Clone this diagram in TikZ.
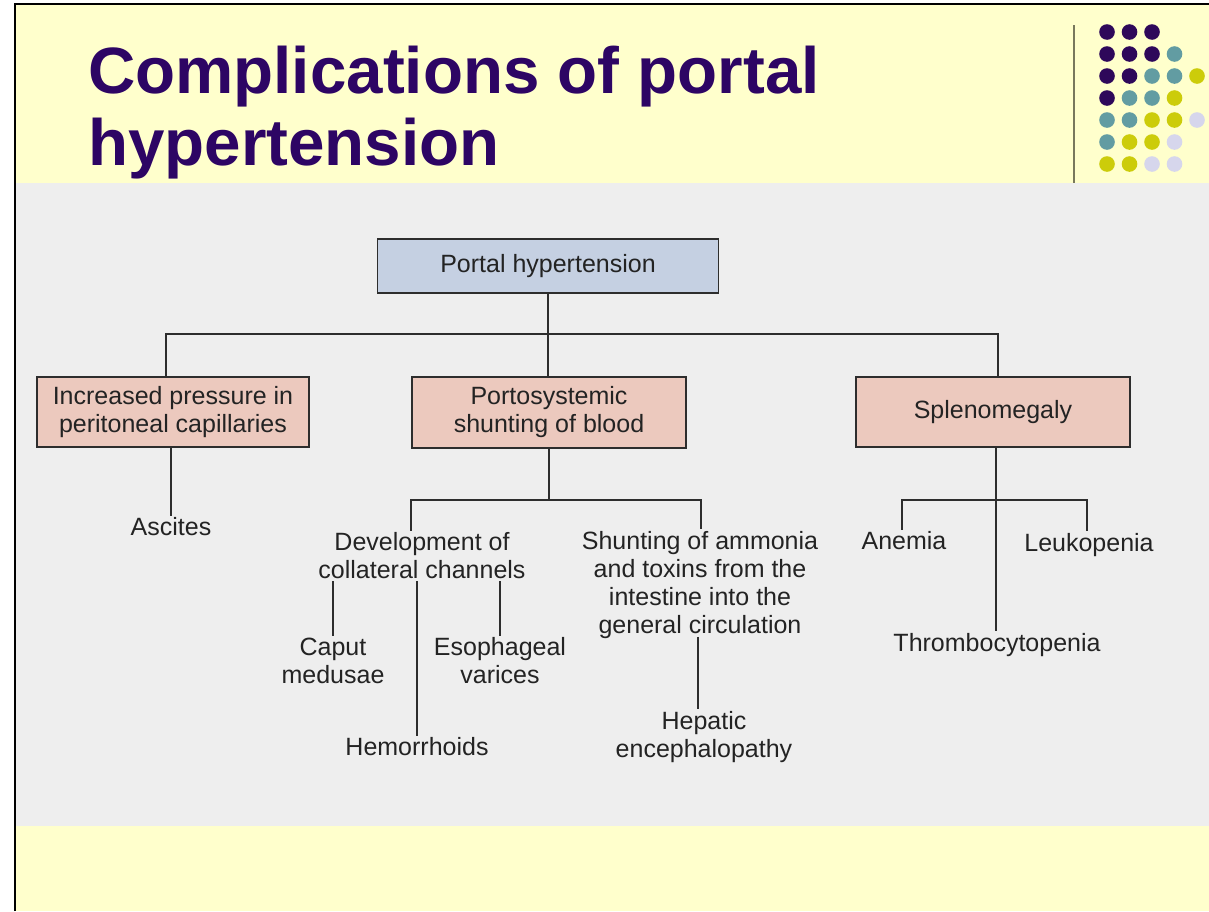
\documentclass[tikz,border=0pt]{standalone}
\usepackage{fontspec}
\setmainfont{Liberation Sans}
\definecolor{bgyellow}{RGB}{255,255,204}
\definecolor{bggray}{RGB}{238,238,238}
\definecolor{titlec}{RGB}{45,5,100}
\definecolor{dotP}{RGB}{46,8,90}
\definecolor{dotT}{RGB}{98,156,162}
\definecolor{dotY}{RGB}{204,204,10}
\definecolor{dotL}{RGB}{214,214,236}
\definecolor{sepline}{RGB}{120,120,92}
\definecolor{boxblue}{RGB}{197,208,226}
\definecolor{boxpink}{RGB}{236,201,190}
\definecolor{lin}{RGB}{45,45,45}
\definecolor{txt}{RGB}{35,35,35}
\begin{document}
\begin{tikzpicture}[x=1pt,y=-1pt,
  box/.style={draw=lin, line width=1.8pt, inner sep=0pt, align=center, text=txt,
    font=\fontsize{25}{28}\selectfont},
  lbl/.style={align=center, inner sep=2pt, text=txt, font=\fontsize{25}{28}\selectfont},
  conn/.style={draw=lin, line width=1.8pt},
  dot/.style={fill=#1}]
\useasboundingbox (0,0) rectangle (1209,911);
% backgrounds
\fill[white] (0,0) rectangle (1209,911);
\fill[bgyellow] (15,4) rectangle (1209,911);
\fill[bggray] (16,183) rectangle (1209,826);
\draw[black, line width=2pt] (15,911) -- (15,4) -- (1209,4);
% separator line
\draw[sepline, line width=2.5pt] (1074,25) -- (1074,183);
% dots
\foreach \c [count=\i] in {P,P,P}{\fill[dot\c] (1084.5+22.5*\i,32) circle[radius=7.8pt];}
\foreach \c [count=\i] in {P,P,P,T}{\fill[dot\c] (1084.5+22.5*\i,54) circle[radius=7.8pt];}
\foreach \c [count=\i] in {P,P,T,T,Y}{\fill[dot\c] (1084.5+22.5*\i,76) circle[radius=7.8pt];}
\foreach \c [count=\i] in {P,T,T,Y}{\fill[dot\c] (1084.5+22.5*\i,98) circle[radius=7.8pt];}
\foreach \c [count=\i] in {T,T,Y,Y,L}{\fill[dot\c] (1084.5+22.5*\i,120) circle[radius=7.8pt];}
\foreach \c [count=\i] in {T,Y,Y,L}{\fill[dot\c] (1084.5+22.5*\i,142) circle[radius=7.8pt];}
\foreach \c [count=\i] in {Y,Y,L,L}{\fill[dot\c] (1084.5+22.5*\i,164) circle[radius=7.8pt];}
% title
\node[anchor=base west, inner sep=0pt, text=titlec, font=\fontsize{65.5}{70}\bfseries\selectfont] (t1) at (88,93) {Complications of portal};
\node[anchor=base west, inner sep=0pt, text=titlec, font=\fontsize{65.5}{70}\bfseries\selectfont] (t2) at (88,165) {hypertension};
% boxes
\node[box, fill=boxblue, minimum width=341pt, minimum height=54pt] (ph) at (548,266) {Portal hypertension};
\node[box, fill=boxpink, minimum width=272pt, minimum height=70pt] (lb) at (173,412) {Increased pressure in\\peritoneal capillaries};
\node[box, fill=boxpink, minimum width=274pt, minimum height=71pt] (mb) at (549,412.5) {Portosystemic\\shunting of blood};
\node[box, fill=boxpink, minimum width=274pt, minimum height=70pt] (rb) at (993,412) {Splenomegaly};
% labels
\node[lbl] (asc) at (171,527) {Ascites};
\node[lbl] (dev) at (422,556) {Development of\\collateral channels};
\node[lbl] (shu) at (700,585) {Shunting of ammonia\\and toxins from the\\intestine into the\\general circulation};
\node[lbl] (cap) at (333,661) {Caput\\medusae};
\node[lbl] (eso) at (500,661) {Esophageal\\varices};
\node[lbl] (hem) at (417,747) {Hemorrhoids};
\node[lbl] (hep) at (704,737) {Hepatic\\encephalopathy};
\node[lbl] (ane) at (904,541) {Anemia};
\node[lbl] (leu) at (1089,545) {Leukopenia};
\node[lbl] (thr) at (997,645) {Thrombocytopenia};
% junctions
\coordinate (j1) at (548,334);
\coordinate (j2) at (549,500);
\coordinate (j3) at (996,500);
% connectors
\draw[conn] (ph.south) -- (j1);
\draw[conn] ([xshift=-7pt]lb.north) |- (j1) -| ([xshift=5pt]rb.north);
\draw[conn] (j1) -- (j1 |- mb.north);
\draw[conn] ([xshift=-2pt]lb.south) -- ([xshift=-2pt]lb.south |- asc.north);
\draw[conn] (mb.south) -- (j2);
\draw[conn] ([xshift=-11pt]dev.north) |- (j2) -| ([xshift=1pt]shu.north);
\draw[conn] (dev.south -| cap) -- (cap.north);
\draw[conn] (dev.south -| hem) -- (hem.north);
\draw[conn] (dev.south -| eso) -- (eso.north);
\draw[conn] ([xshift=-2pt,yshift=4pt]shu.south) -- ([xshift=-6pt]hep.north);
\draw[conn] (rb.south -| j3) -- (j3 |- thr.north);
\draw[conn] ([xshift=-2pt]ane.north) |- (j3) -| ([xshift=-2pt]leu.north);
\end{tikzpicture}
\end{document}
